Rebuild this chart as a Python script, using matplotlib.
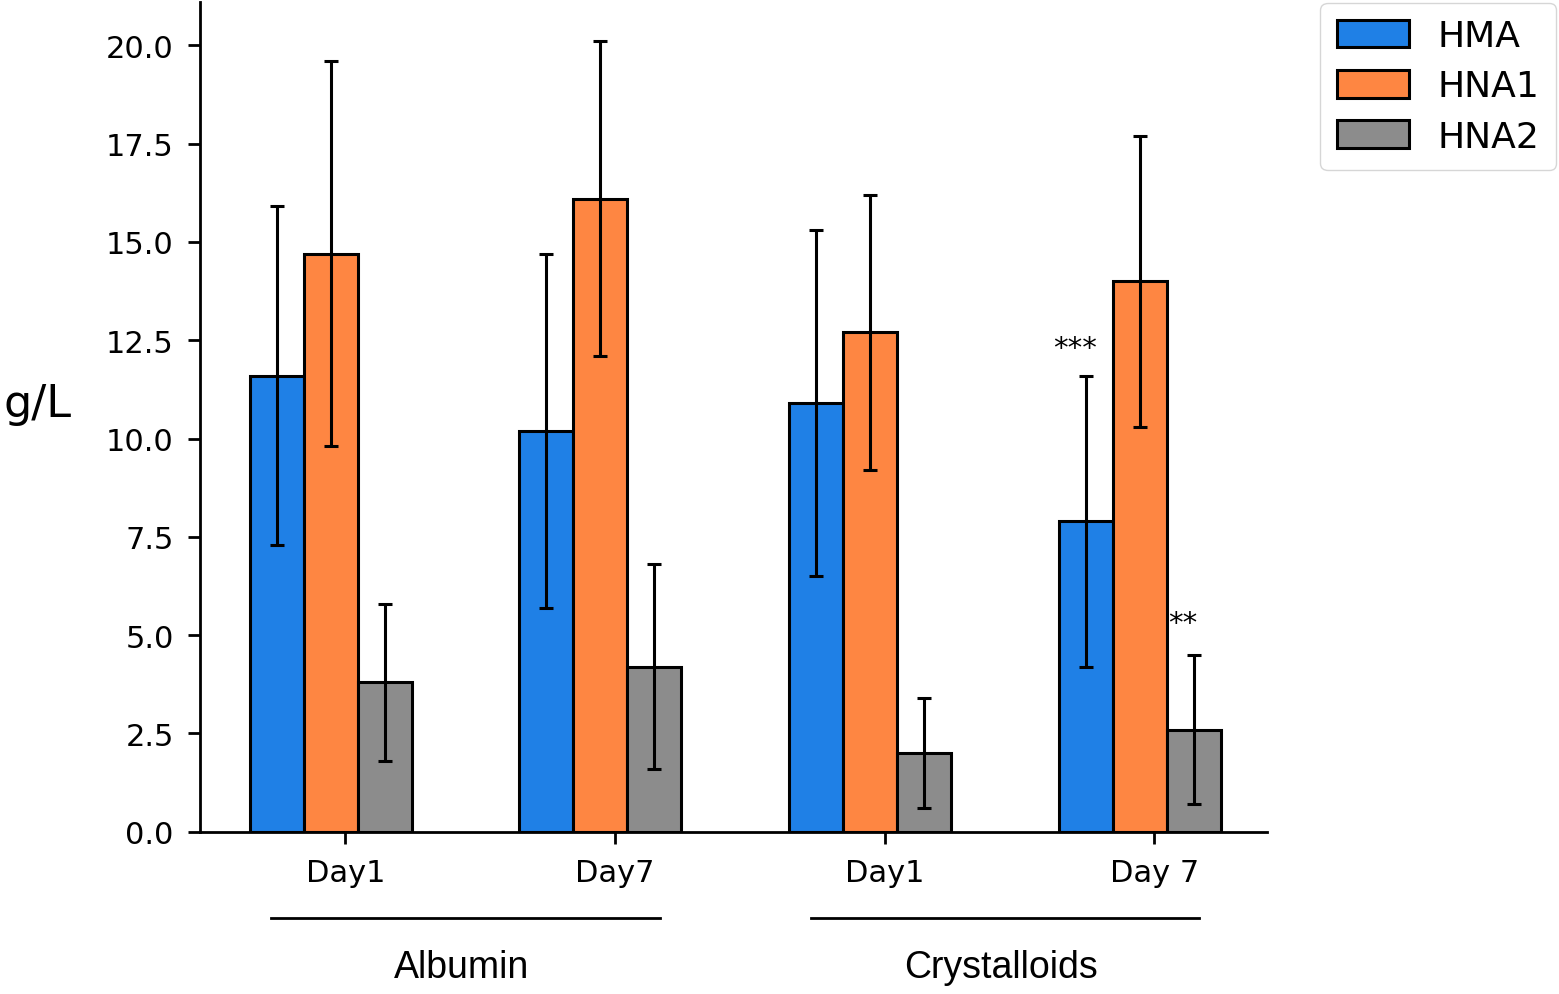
import numpy as np
import matplotlib
matplotlib.use('Agg')
import matplotlib.pyplot as plt

days = ['Day1', 'Day7', 'Day1', 'Day 7']
groups = ['Albumin', 'Crystalloids']
series = ['HMA', 'HNA1', 'HNA2']

hma = [11.6, 10.2, 10.9, 7.9]
hma_err = [4.3, 4.5, 4.4, 3.7]
hna1 = [14.7, 16.1, 12.7, 14.0]
hna1_err = [4.9, 4.0, 3.5, 3.7]
hna2 = [3.8, 4.2, 2.0, 2.6]
hna2_err = [2.0, 2.6, 1.4, 1.9]

# significance marks: (series index, day index, text, y)
stars = [(0, 3, '***', 12.3), (2, 3, '**', 5.3)]

colors = ['#1f80e6', '#fe8642', '#8c8c8c']

fig = plt.figure(figsize=(15.59, 9.95), dpi=100)
ax = fig.add_axes([0.128, 0.163, 0.685, 0.834])

x = np.arange(len(days))
w = 0.2
values = [hma, hna1, hna2]
errors = [hma_err, hna1_err, hna2_err]
for k in range(3):
    ax.bar(x + (k - 1) * w, values[k], w, yerr=errors[k], color=colors[k],
           edgecolor='black', linewidth=2.2, label=series[k],
           error_kw=dict(ecolor='black', elinewidth=2.2, capsize=5, capthick=2.2))

for k, d, txt, yv in stars:
    ax.text(x[d] + (k - 1) * w - 0.04, yv, txt, ha='center', va='center', fontsize=21)

ax.set_xlim(-0.486, 3.474)
ax.set_ylim(0, 21.1)
ax.set_yticks(np.arange(0, 20.1, 2.5))
ax.set_yticklabels(['%.1f' % v for v in np.arange(0, 20.1, 2.5)])
ax.set_xticks(x + 0.055)
ax.set_xticklabels(days)
ax.tick_params(labelsize=22, width=2, length=8.5, pad=10)
for s in ['top', 'right']:
    ax.spines[s].set_visible(False)
for s in ['left', 'bottom']:
    ax.spines[s].set_linewidth(2)

ax.set_ylabel('g/L', rotation=0, fontsize=32, ha='center', va='center')
ax.yaxis.set_label_coords(-0.152, 0.516)

# group brackets under the day labels
trans = ax.get_xaxis_transform()
for g, name in enumerate(groups):
    c = (x[2 * g] + x[2 * g + 1]) / 2
    ax.plot([c - 0.72, c + 0.72], [-0.104, -0.104], color='black', lw=2,
            transform=trans, clip_on=False)
    ax.text(c - 0.015, -0.163, name, transform=trans, ha='center', va='center',
            fontsize=27, family=['Liberation Sans', 'DejaVu Sans'])

fig.legend(loc='upper left', bbox_to_anchor=(0.847, 0.996), fontsize=26,
           labelspacing=0.45, handlelength=2.0, handleheight=0.8, borderpad=0.45,
           borderaxespad=0)

fig.savefig('out.png', dpi=100)
